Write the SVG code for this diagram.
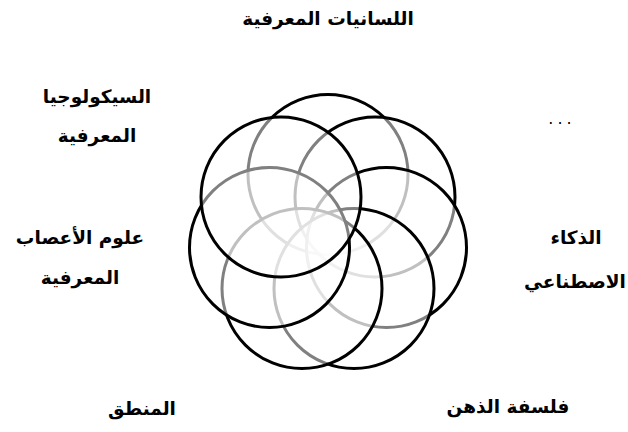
<svg xmlns="http://www.w3.org/2000/svg" width="628" height="432" viewBox="0 0 628 432">
<style>
.c{fill:#fff;fill-opacity:0.5;stroke:#000;stroke-width:3}
.t{font-family:"DejaVu Sans","Noto Sans",sans-serif;font-weight:bold;font-size:18.5px;fill:#000;text-anchor:middle;direction:rtl}
</style>
<rect width="628" height="432" fill="#fff"/>
<g id="circles">
<g id="c-top"><circle class="c" cx="328" cy="174.5" r="80"/></g>
<g id="c-topright"><circle class="c" cx="375" cy="197" r="80"/></g>
<g id="c-right"><circle class="c" cx="386.5" cy="247.5" r="80"/></g>
<g id="c-bottomright"><circle class="c" cx="354" cy="288.5" r="80"/></g>
<g id="c-bottomleft"><circle class="c" cx="302" cy="288.5" r="80"/></g>
<g id="c-left"><circle class="c" cx="269.5" cy="247.5" r="80"/></g>
<g id="c-topleft"><circle class="c" cx="281" cy="197" r="80"/></g>
</g>
<g id="labels">
<g id="l-top"><text class="t" x="328" y="25">اللسانيات المعرفية</text></g>
<g id="l-psy"><text class="t" x="97" y="103">السيكولوجيا</text><text class="t" x="97" y="142">المعرفية</text></g>
<g id="l-neuro"><text class="t" x="80" y="244">علوم الأعصاب</text><text class="t" x="80" y="284">المعرفية</text></g>
<g id="l-logic"><text class="t" x="142" y="415">المنطق</text></g>
<g id="l-phil"><text class="t" x="508" y="413">فلسفة الذهن</text></g>
<g id="l-ai"><text class="t" x="576" y="244">الذكاء</text><text class="t" x="575" y="288">الاصطناعي</text></g>
<g id="l-etc"><text class="t" x="562" y="124" style="font-weight:normal;font-size:16px;letter-spacing:4px">...</text></g>
</g>
</svg>
